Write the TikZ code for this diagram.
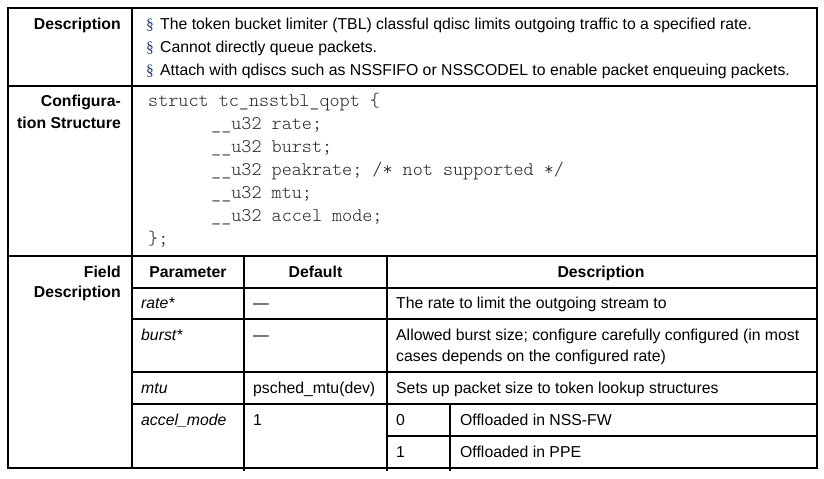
\documentclass[tikz,border=0pt]{standalone}
\usepackage{fontspec}
\setmainfont{Liberation Sans}
\setmonofont{lmmonolt10-regular.otf}
\newfontfamily\secfont{Liberation Serif}
\definecolor{bulletblue}{RGB}{31,56,110}
\begin{document}
\begin{tikzpicture}[x=1bp,y=-1bp,
 gridline/.style={line width=1.6bp, line cap=rect},
 txt/.style={anchor=base west, inner sep=0pt, font=\fontsize{15.8bp}{23bp}\selectfont},
 lbl/.style={anchor=base east, inner sep=0pt, font=\fontsize{15.8bp}{23bp}\selectfont\bfseries},
 hdr/.style={anchor=base, inner sep=0pt, font=\fontsize{15.8bp}{23bp}\selectfont\bfseries},
 parm/.style={anchor=base west, inner sep=0pt, font=\fontsize{15.8bp}{23bp}\selectfont\itshape},
 code/.style={anchor=base west, inner sep=0pt, text=black!85, font=\fontsize{19.2bp}{23bp}\selectfont\ttfamily},
 bul/.style={anchor=base west, inner sep=0pt, text=bulletblue, font=\fontsize{15.5bp}{23bp}\selectfont\secfont}]
\useasboundingbox (0,0) rectangle (824,479);
\fill[white] (0,0) rectangle (824,479);
% grid
\draw[gridline] (8,8) rectangle (817,468);
\draw[gridline] (8,86) -- (817,86);
\draw[gridline] (8,256) -- (817,256);
\draw[gridline] (132,8) -- (132,468);
\draw[gridline] (244,256) -- (244,470);
\draw[gridline] (387,256) -- (387,470);
\draw[gridline] (450,404) -- (450,470);
\foreach \yy in {288,319,372,404} \draw[gridline] (132,\yy) -- (817,\yy);
\draw[gridline] (387,436) -- (817,436);
% description row
\node[lbl] (ldesc) at (121,30) {Description};
\node[bul] (b1) at (146,30) {§};
\node[bul] (b2) at (146,53) {§};
\node[bul] (b3) at (146,76) {§};
\node[txt] (d1) at (160,30) {The token bucket limiter (TBL) classful qdisc limits outgoing traffic to a specified rate.};
\node[txt] (d2) at (160,53) {Cannot directly queue packets.};
\node[txt] (d3) at (160,76) {Attach with qdiscs such as NSSFIFO or NSSCODEL to enable packet enqueuing packets.};
% configuration row
\node[lbl] (lconf1) at (121,107) {Configura-};
\node[lbl] (lconf2) at (121,129) {tion Structure};
\node[code] (c0) at (148,107) {struct tc\_nsstbl\_qopt \{};
\node[code] (c1) at (211,130) {\_\_u32 rate;};
\node[code] (c2) at (211,153) {\_\_u32 burst;};
\node[code] (c3) at (211,176) {\_\_u32 peakrate; /* not supported */};
\node[code] (c4) at (211,199) {\_\_u32 mtu;};
\node[code] (c5) at (211,222) {\_\_u32 accel mode;};
\node[code] (c6) at (148,245) {\};};
% field description row
\node[lbl] (lfield1) at (121,278) {Field};
\node[lbl] (lfield2) at (121,298) {Description};
\node[hdr] (hpar) at (188,278) {Parameter};
\node[hdr] (hdef) at (315.5,278) {Default};
\node[hdr] (hdsc) at (601,278) {Description};
\node[parm] (p1) at (141,309) {rate*};
\node[txt] (v1) at (253,309) {—};
\node[txt] (e1) at (396,309) {The rate to limit the outgoing stream to};
\node[parm] (p2) at (141,340) {burst*};
\node[txt] (v2) at (253,340) {—};
\node[txt] (e2a) at (396,340) {Allowed burst size; configure carefully configured (in most};
\node[txt] (e2b) at (396,361) {cases depends on the configured rate)};
\node[parm] (p3) at (141,393) {mtu};
\node[txt] (v3) at (253,393) {psched\_mtu(dev)};
\node[txt] (e3) at (396,393) {Sets up packet size to token lookup structures};
\node[parm] (p4) at (141,425) {accel\_mode};
\node[txt] (v4) at (253,425) {1};
\node[txt] (k0) at (396,425) {0};
\node[txt] (m0) at (460,425) {Offloaded in NSS-FW};
\node[txt] (k1) at (396,457) {1};
\node[txt] (m1) at (460,457) {Offloaded in PPE};
\end{tikzpicture}
\end{document}
